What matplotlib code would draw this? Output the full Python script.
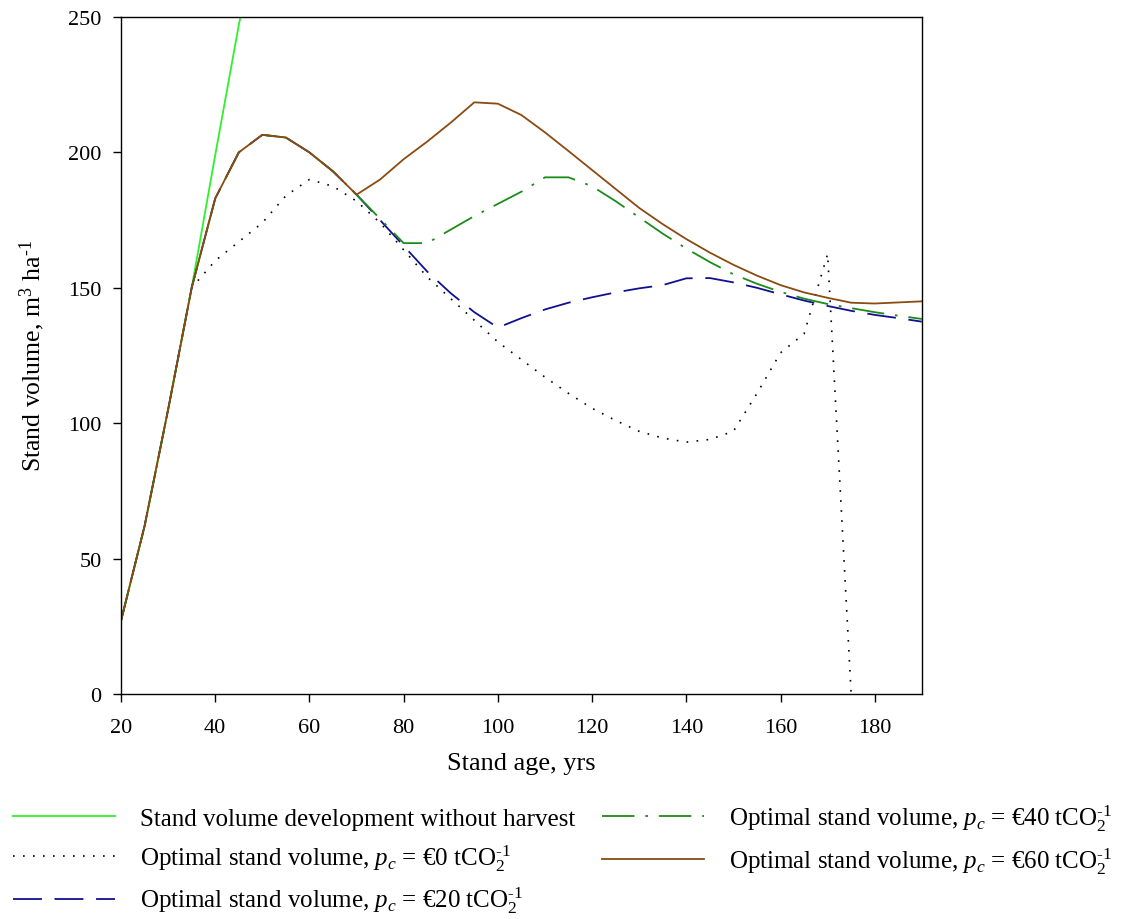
import matplotlib
matplotlib.use("Agg")
import matplotlib.pyplot as plt
import numpy as np

plt.rcParams['font.family'] = ['Liberation Serif', 'DejaVu Serif']
plt.rcParams['mathtext.fontset'] = 'custom'
plt.rcParams['mathtext.rm'] = 'Liberation Serif'
plt.rcParams['mathtext.it'] = 'Liberation Serif:italic'

age = [20, 25, 30, 35, 40, 45, 50, 55, 60, 65, 70, 75, 80, 85, 90, 95, 100,
       105, 110, 115, 120, 125, 130, 135, 140, 145, 150, 155, 160, 165, 170,
       175, 180, 185, 190]

no_harvest_age = [20, 25, 30, 35, 40, 45, 50]
no_harvest = [27, 62, 105, 150, 199, 247, 290]

pc0_age = age[:32]
pc0 = [27, 62, 105, 150, 160, 167, 174, 184, 190, 187.5, 182, 174, 164, 154,
       146, 138, 130, 123.5, 117, 111, 105.5, 101, 97, 94.5, 93, 94, 97, 111,
       126, 133, 162.5, 0]

pc20 = [27, 62, 105, 150, 183, 200, 206.5, 205.5, 200, 193, 184.4, 175,
        165.5, 156, 148, 141, 135.3, 138.8, 142, 144.5, 146.5, 148.3, 149.8,
        151, 153.5, 153.6, 152, 150, 147.6, 145.3, 143.3, 141.5, 140, 138.8,
        137.5]

pc40 = [27, 62, 105, 150, 183, 200, 206.5, 205.5, 200, 193, 184.4, 175.5,
        166.5, 166.5, 171.5, 176.5, 181, 185.5, 190.8, 190.8, 187.5, 182,
        176, 170, 164.5, 159.5, 155, 151.5, 148.5, 146, 144, 142.5, 141,
        139.7, 138.5]

pc60 = [27, 62, 105, 150, 183, 200, 206.5, 205.5, 200, 193, 184.4, 190,
        197.5, 204, 211, 218.5, 218, 213.8, 207.4, 200.5, 193.5, 186.5,
        179.5, 173.5, 168, 163, 158.5, 154.5, 151, 148.3, 146.3, 144.5,
        144.2, 144.6, 145]

xticks = [20, 40, 60, 80, 100, 120, 140, 160, 180]
yticks = [0, 50, 100, 150, 200, 250]

unit = r"tCO$_2^{\text{-1}}$"
labels = [
    "Stand volume development without harvest",
    r"Optimal stand volume, $p_c$ = €0 " + unit,
    r"Optimal stand volume, $p_c$ = €20 " + unit,
    r"Optimal stand volume, $p_c$ = €40 " + unit,
    r"Optimal stand volume, $p_c$ = €60 " + unit,
]

fig = plt.figure(figsize=(11.48, 9.2), dpi=100)
ax = fig.add_axes([0.1054, 0.2446, 0.6976, 0.7358])

lw = 1.3
l0, = ax.plot(no_harvest_age, no_harvest, color='#2ef02e', lw=lw)
l1, = ax.plot(pc0_age, pc0, color='black', lw=1.2, linestyle=(0, (1, 5)))
l2, = ax.plot(age, pc20, color='#101090', lw=lw, linestyle=(0, (16, 7)))
l3, = ax.plot(age, pc40, color='#1a8c1a', lw=lw, linestyle=(0, (18, 6, 1.5, 6)))
l4, = ax.plot(age, pc60, color='#8b4a10', lw=lw)

ax.set_xlim(20, 190)
ax.set_ylim(0, 250)
ax.set_xticks(xticks)
ax.set_yticks(yticks)
ax.tick_params(axis='both', direction='out', length=6, width=1, labelsize=16,
               top=False, right=False)
ax.tick_params(axis='x', pad=11)
ax.tick_params(axis='y', pad=8)
for s in ax.spines.values():
    s.set_linewidth(1.0)

ax.set_xlabel("Stand age, yrs", fontsize=19, labelpad=11)
ax.set_ylabel(r"Stand volume, m$^{\text{3}}$ ha$^{\text{-1}}$", fontsize=18.5,
              labelpad=15)

fig.legend([l0, l1, l2, l3, l4], labels, ncol=2, loc='upper left',
           bbox_to_anchor=(0.011, 0.127), bbox_transform=fig.transFigure,
           frameon=False, fontsize=18, handlelength=4.1, handletextpad=1.0,
           columnspacing=1.05, labelspacing=0.47, borderaxespad=0.0,
           borderpad=0.0)

fig.savefig("out.png", dpi=100)
